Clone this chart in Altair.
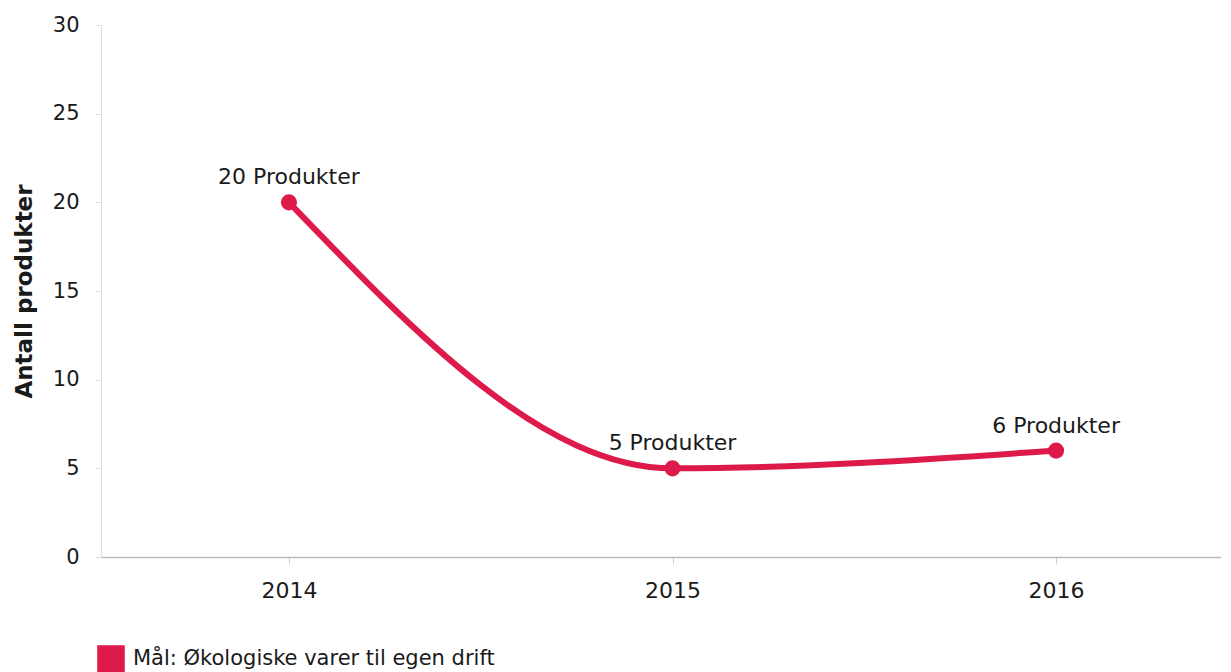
import altair as alt
import pandas as pd

years = [2014, 2015, 2016]
values = [20, 5, 6]
labels = ["20 Produkter", "5 Produkter", "6 Produkter"]
series_name = "Mål: Økologiske varer til egen drift"
y_ticks = [0, 5, 10, 15, 20, 25, 30]

df = pd.DataFrame({"year": years, "value": values, "label": labels, "series": [series_name] * 3})

RED = "#DE1A4B"
FONT = "DejaVu Sans"
TXT = "#1a1a1a"

x_enc = alt.X(
    "year:Q",
    scale=alt.Scale(domain=[2013.51, 2016.43], nice=False, zero=False),
    axis=alt.Axis(
        values=years, format="d", title=None, grid=False,
        labelFont=FONT, labelFontSize=22, labelColor=TXT,
        labelPadding=17, tickSize=6, tickColor="#CCCCCC",
        domainColor="#BBBBBB", domainWidth=1.5,
    ),
)
y_enc = alt.Y(
    "value:Q",
    scale=alt.Scale(domain=[0, 30], nice=False),
    axis=alt.Axis(
        values=y_ticks, title="Antall produkter", grid=False,
        labelFont=FONT, labelFontSize=21, labelColor=TXT,
        labelPadding=16, tickSize=6, tickColor="#DDDDDD",
        domainColor="#DDDDDD",
        titleFont=FONT, titleFontSize=23, titleFontWeight="bold",
        titleColor=TXT, titlePadding=16,
    ),
)

base = alt.Chart(df).encode(x=x_enc, y=y_enc)

line = base.mark_line(interpolate="monotone", strokeWidth=6, color=RED)

points = base.mark_point(filled=True, size=260, opacity=1).encode(
    color=alt.Color(
        "series:N",
        scale=alt.Scale(domain=[series_name], range=[RED]),
        legend=alt.Legend(
            title=None, orient="none", legendX=-4, legendY=620,
            symbolType="square", symbolSize=760, symbolOpacity=1,
            labelFont=FONT, labelFontSize=21, labelColor=TXT,
            labelLimit=600, symbolStrokeWidth=0, labelOffset=8,
        ),
    )
)

text = base.mark_text(dy=-25, font=FONT, fontSize=22, color=TXT).encode(text="label:N")

chart = (
    (line + points + text)
    .properties(width=1120, height=532, padding={"left": 5, "top": 6, "right": 0, "bottom": 0})
    .configure(background="white")
    .configure_view(stroke=None)
)

chart.save("out.html", embed_options={"renderer": "svg", "actions": False})
